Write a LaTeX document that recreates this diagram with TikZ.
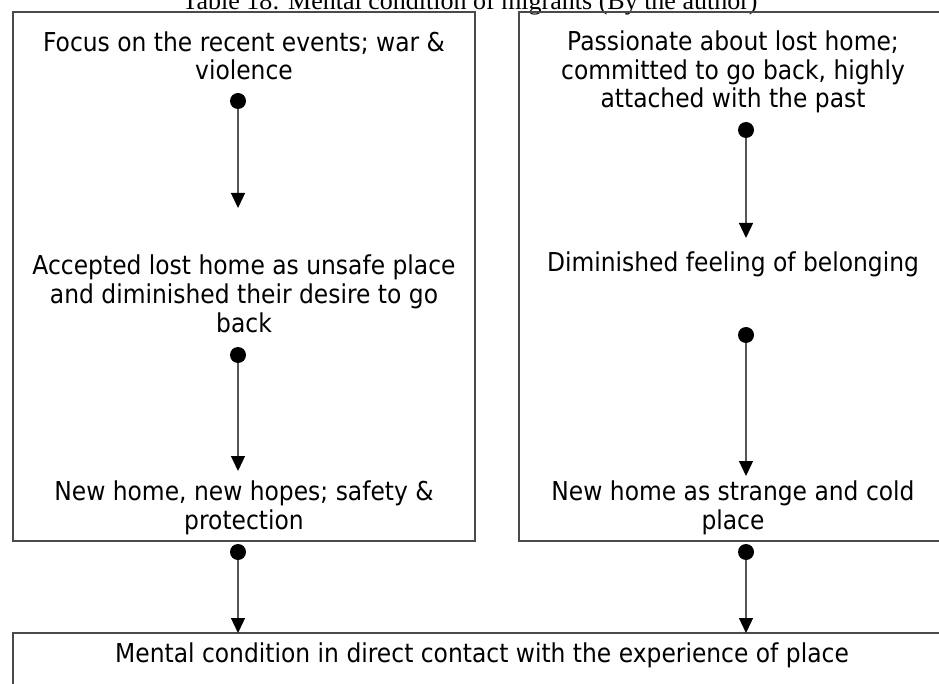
\documentclass[tikz,border=0pt]{standalone}
\usepackage{fontspec}
\setmainfont{DejaVu Sans}[FakeStretch=0.9]
\newfontfamily\titlefont{Liberation Serif}
\usetikzlibrary{arrows.meta}
\definecolor{framegray}{HTML}{4A4A4A}
\definecolor{linkgray}{HTML}{555555}

\begin{document}
\begin{tikzpicture}[x=1pt,y=-1pt,
  frame/.style={draw=framegray, line width=1.3pt},
  % anchor=base sits on the last line of a multi-line node
  stage/.style={align=center, inner sep=0pt, anchor=base,
    font=\fontsize{26}{28.5}\selectfont},
  knob/.style={circle, fill=black, inner sep=0pt, minimum size=16pt},
  link/.style={draw=linkgray, line width=1.3pt,
    -{Triangle[width=14pt,length=15pt,fill=black,color=black]}}]

\useasboundingbox (0,0) rectangle (939,684);
\clip (0,0) rectangle (939,684);

% caption
\node[anchor=base, inner sep=0pt, font=\titlefont\fontsize{26}{30}\selectfont]
  (caption) at (470,10) {Table 18: Mental condition of migrants (By the author)};

% frames
\draw[frame] (13,12) rectangle (475,541);
\draw[frame] (519,12) rectangle (950,541);
\draw[frame] (13,633) rectangle (951,720);

% left column
\node[stage] (l1) at (244,80) {Focus on the recent events; war \&\\violence};
\node[stage] (l2) at (244,332) {Accepted lost home as unsafe place\\and diminished their desire to go\\back};
\node[stage] (l3) at (244,529) {New home, new hopes; safety \&\\protection};

% right column
\node[stage] (r1) at (733,108) {Passionate about lost home;\\committed to go back, highly\\attached with the past};
\node[stage] (r2) at (733,272) {Diminished feeling of belonging};
\node[stage] (r3) at (733,529) {New home as strange and cold\\place};

% bottom
\node[stage] (m) at (482,662) {Mental condition in direct contact with the experience of place};

% connector ends
\coordinate (le1) at (238,208);
\coordinate (le2) at (238,471);
\coordinate (re1) at (746,238);
\coordinate (re2) at (746,476);
\coordinate (lm) at (238,633);
\coordinate (rm) at (746,633);

% connectors
\draw[link] (238,101) coordinate (ld1) -- (le1);
\draw[link] (238,355) coordinate (ld2) -- (le2);
\draw[link] (746,130) coordinate (rd1) -- (re1);
\draw[link] (746,335) coordinate (rd2) -- (re2);
\draw[link] (238,552) coordinate (ld3) -- (lm);
\draw[link] (746,552) coordinate (rd3) -- (rm);

% knobs
\foreach \k in {ld1,ld2,rd1,rd2,ld3,rd3} \node[knob] at (\k) {};
\end{tikzpicture}
\end{document}
